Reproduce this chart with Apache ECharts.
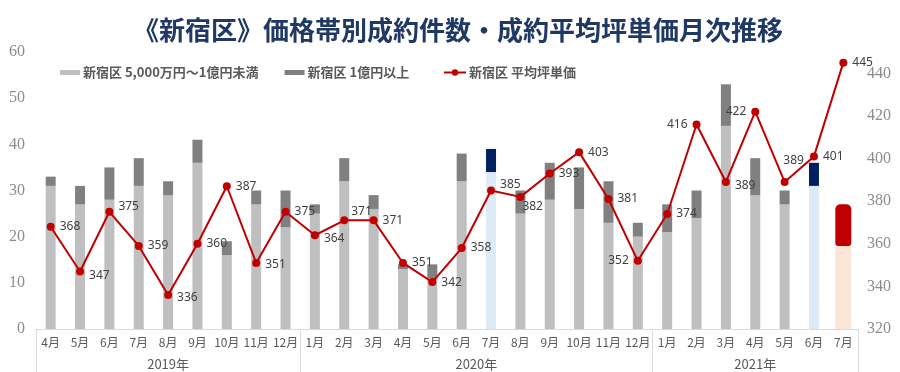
<!DOCTYPE html>
<html>
<head>
<meta charset="utf-8">
<script src="https://cdn.jsdelivr.net/npm/echarts@6/dist/echarts.min.js"></script>
<style>html,body{margin:0;padding:0;background:#fff;}#c{width:900px;height:372px;}</style>
</head>
<body>
<div id="c"></div>
<script>
const titleText = '《新宿区》価格帯別成約件数・成約平均坪単価月次推移';
const months = ['4月','5月','6月','7月','8月','9月','10月','11月','12月',
  '1月','2月','3月','4月','5月','6月','7月','8月','9月','10月','11月','12月',
  '1月','2月','3月','4月','5月','6月','7月'];
const yearLabels = ['2019年','2020年','2021年'];
const yearStartIndex = [0, 9, 21];
const nameLow = '新宿区 5,000万円～1億円未満';
const nameHigh = '新宿区 1億円以上';
const nameLine = '新宿区 平均坪単価';
const countLow  = [31,27,28,31,29,36,16,27,22, 25,32,26,13,11,32,34,25,28,26,23,20, 21,24,44,29,27,31,18];
const countHigh = [2,4,7,6,3,5,3,3,8, 2,5,3,1,3,6,5,5,8,9,9,3, 6,6,9,8,3,5,9];
const avgPrice  = [368,347,375,359,336,360,387,351,375, 364,371,371,351,342,358,385,382,393,403,381,352, 374,416,389,422,389,401,445];
const highlightIdx = [15, 26];
const forecastIdx = 27;

// label placement styling (not data)
const labelStyle = {
  1:{offset:[0,4]}, 2:{offset:[0,-5]}, 4:{offset:[0,3]}, 7:{offset:[0,2]}, 9:{offset:[0,3]},
  10:{offset:[-2,-9]}, 15:{offset:[0,-6]}, 16:{offset:[-7,10]}, 20:{position:'left'},
  22:{position:'left'}, 23:{offset:[0,4]}, 24:{position:'left'}, 25:{position:'top', offset:[9,-6]}
};

const n = months.length;
const yearCenters = yearStartIndex.map((s, i) => {
  const e = i + 1 < yearStartIndex.length ? yearStartIndex[i + 1] : n;
  return (s + e) / 2;
});

const lowData = countLow.map((v, i) => {
  if (i === forecastIdx) return '-';
  if (highlightIdx.includes(i)) return {value: v, itemStyle: {color: '#DDEBF7'}};
  return v;
});
const highData = countHigh.map((v, i) => {
  if (i === forecastIdx) return '-';
  if (highlightIdx.includes(i)) return {value: v, itemStyle: {color: '#002060'}};
  return v;
});
const fLow = countLow.map((v, i) => i === forecastIdx ? v : '-');
const fHigh = countHigh.map((v, i) => i === forecastIdx ? v : '-');
const lineData = avgPrice.map((v, i) => {
  const s = labelStyle[i];
  if (!s) return v;
  return {value: v, label: Object.assign({}, s)};
});

const chart = echarts.init(document.getElementById('c'), null, {renderer: 'canvas'});
const FONT = '"Noto Sans CJK JP", "Noto Sans", sans-serif';
const NUMFONT = '"Liberation Serif", serif';
chart.setOption({
  animation: false,
  backgroundColor: '#ffffff',
  title: {
    text: titleText, left: 128, top: 12,
    textStyle: {fontSize: 26, fontWeight: 'bold', color: '#1F3864', fontFamily: FONT}
  },
  legend: [
    {data: [nameLow, nameHigh], left: 55, top: 61, icon: 'rect', itemWidth: 20, itemHeight: 5, itemGap: 26,
     textStyle: {fontSize: 13, fontWeight: 'bold', color: '#595959', fontFamily: FONT, padding: [0,0,0,-2]}},
    {data: [nameLine], left: 438, top: 61, itemWidth: 22, itemHeight: 8,
     textStyle: {fontSize: 13, fontWeight: 'bold', color: '#595959', fontFamily: FONT, padding: [0,0,0,-2]}}
  ],
  grid: {left: 36, right: 42, top: 52, bottom: 43, containLabel: false},
  xAxis: [
    {type: 'category', data: months, position: 'bottom', boundaryGap: true,
     axisLine: {lineStyle: {color: '#d9d9d9', width: 1}},
     axisTick: {show: true, length: 43, interval: (i) => yearStartIndex.includes(i), lineStyle: {color: '#d9d9d9'}},
     axisLabel: {interval: 0, margin: 7, fontSize: 12, color: '#595959', fontFamily: FONT},
     splitLine: {show: false}},
    {type: 'value', min: 0, max: n, interval: 0.5, position: 'bottom',
     axisLine: {show: false}, axisTick: {show: false}, splitLine: {show: false},
     axisLabel: {margin: 29, fontSize: 13, color: '#595959', fontFamily: FONT, showMinLabel: true, showMaxLabel: true,
       formatter: (v) => { const k = yearCenters.indexOf(v); return k >= 0 ? yearLabels[k] : ''; }}},
    {type: 'category', data: months, show: false, boundaryGap: true}
  ],
  yAxis: [
    {type: 'value', min: 0, max: 60, interval: 10, position: 'left',
     splitLine: {show: false}, axisLine: {show: false}, axisTick: {show: false},
     axisLabel: {margin: 11, fontSize: 16, color: '#8c8c8c', fontFamily: NUMFONT}},
    {type: 'value', min: 320, max: 450, interval: 20, position: 'right',
     splitLine: {show: false}, axisLine: {show: false}, axisTick: {show: false},
     axisLabel: {margin: 9, fontSize: 16, color: '#8c8c8c', fontFamily: NUMFONT,
       formatter: (v) => (v === 450 ? '' : String(v))}}
  ],
  series: [
    {name: nameLow, type: 'bar', stack: 'a', xAxisIndex: 0, yAxisIndex: 0, barWidth: 10,
     itemStyle: {color: '#BFBFBF'}, data: lowData},
    {name: nameHigh, type: 'bar', stack: 'a', xAxisIndex: 0, yAxisIndex: 0, barWidth: 10,
     itemStyle: {color: '#808080'}, data: highData},
    {name: '予測 下', type: 'bar', stack: 'b', xAxisIndex: 2, yAxisIndex: 0, barWidth: 16,
     itemStyle: {color: '#FBE5D6'}, data: fLow},
    {name: '予測 上', type: 'bar', stack: 'b', xAxisIndex: 2, yAxisIndex: 0, barWidth: 16,
     itemStyle: {color: '#C00000', borderRadius: [5,5,3,3]}, data: fHigh},
    {name: nameLine, type: 'line', xAxisIndex: 0, yAxisIndex: 1, z: 5,
     symbol: 'circle', symbolSize: 8,
     itemStyle: {color: '#C00000'}, lineStyle: {color: '#C00000', width: 2},
     label: {show: true, position: 'right', distance: 5, fontSize: 12, color: '#404040', fontFamily: '"Noto Sans", sans-serif'},
     data: lineData}
  ]
});
</script>
</body>
</html>
